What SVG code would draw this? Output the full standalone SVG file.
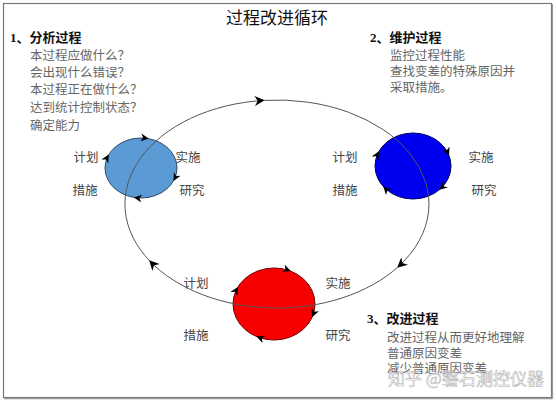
<svg xmlns="http://www.w3.org/2000/svg" width="556" height="402" viewBox="0 0 556 402">
<defs>
<style>
.t{font-family:"Liberation Serif","Noto Sans CJK SC",serif;}
.title{font-size:17px;fill:#111;}
.h{font-size:13px;font-weight:bold;fill:#111;}
.b{font-size:12.5px;fill:#666;}
.lb{font-size:12.5px;fill:#444;}
.big{fill:none;stroke:#555;stroke-width:1;}
.sa{fill:none;stroke:#000;stroke-width:1;}
.wm{font-family:"Noto Sans CJK SC",sans-serif;font-size:17px;fill:#fff;fill-opacity:0.7;stroke:#aaa;stroke-width:0.5;}
</style>
<marker id="ah" markerUnits="userSpaceOnUse" markerWidth="10" markerHeight="10" viewBox="0 0 10 10" refX="9" refY="5" orient="auto">
<path d="M0,0 L10,5 L0,10 L3,5 z" fill="#000"/>
</marker>
<marker id="sh" markerUnits="userSpaceOnUse" markerWidth="8" markerHeight="8" viewBox="0 0 10 10" refX="9" refY="5" orient="auto">
<path d="M0,0 L10,5 L0,10 L3,5 z" fill="#000"/>
</marker>
</defs>
<rect x="0" y="0" width="556" height="402" fill="#fff"/>
<rect x="3.5" y="3.5" width="548" height="394" fill="#fff" stroke="#777" stroke-width="1.2"/>
<line x1="4" y1="398.5" x2="552" y2="398.5" stroke="#999" stroke-width="1.5"/>
<line x1="552.5" y1="4" x2="552.5" y2="399" stroke="#999" stroke-width="1.2"/>
<text class="t title" x="277" y="24" text-anchor="middle">过程改进循环</text>

<g id="sec1">
<text class="t h" x="10" y="42">1、分析过程</text>
<text class="t b" x="30" y="60">本过程应做什么？</text>
<text class="t b" x="30" y="77">会出现什么错误？</text>
<text class="t b" x="30" y="94">本过程正在做什么？</text>
<text class="t b" x="30" y="112">达到统计控制状态？</text>
<text class="t b" x="30" y="130">确定能力</text>
</g>
<g id="sec2">
<text class="t h" x="370" y="42">2、维护过程</text>
<text class="t b" x="390" y="60">监控过程性能</text>
<text class="t b" x="390" y="76">查找变差的特殊原因并</text>
<text class="t b" x="390" y="92">采取措施。</text>
</g>
<g id="sec3">
<text class="t h" x="367" y="323">3、改进过程</text>
<text class="t b" x="387" y="342">改进过程从而更好地理解</text>
<text class="t b" x="387" y="358">普通原因变差</text>
<text class="t b" x="387" y="373">减少普通原因变差</text>
</g>

<g id="cycle-analyze">
<ellipse cx="141" cy="168" rx="36" ry="30" fill="#5B9BD5" stroke="#2E4A68" stroke-width="1"/>
<path class="sa" d="M143.9,137.9 L147.9,138.5" marker-end="url(#sh)"/>
<path class="sa" d="M175.8,176.7 L173.9,180.2" marker-end="url(#sh)"/>
<path class="sa" d="M138.7,198.1 L134.7,197.5" marker-end="url(#sh)"/>
<path class="sa" d="M106.4,158.8 L108.4,155.3" marker-end="url(#sh)"/>
<text class="t lb" x="86" y="162" text-anchor="middle">计划</text>
<text class="t lb" x="188" y="162" text-anchor="middle">实施</text>
<text class="t lb" x="85" y="195" text-anchor="middle">措施</text>
<text class="t lb" x="192" y="195" text-anchor="middle">研究</text>
</g>

<g id="cycle-maintain">
<ellipse cx="413" cy="166" rx="38" ry="33" fill="#0000F0" stroke="#000060" stroke-width="1"/>
<path class="sa" d="M447.1,151.0 L448.7,154.7" marker-end="url(#sh)"/>
<path class="sa" d="M442.9,186.7 L439.9,189.3" marker-end="url(#sh)"/>
<path class="sa" d="M386.7,190.1 L383.9,187.2" marker-end="url(#sh)"/>
<path class="sa" d="M376.7,155.5 L378.6,152.0" marker-end="url(#sh)"/>
<text class="t lb" x="345" y="162" text-anchor="middle">计划</text>
<text class="t lb" x="481" y="162" text-anchor="middle">实施</text>
<text class="t lb" x="345" y="195" text-anchor="middle">措施</text>
<text class="t lb" x="484" y="195" text-anchor="middle">研究</text>
</g>

<g id="cycle-improve">
<ellipse cx="274" cy="304" rx="41" ry="36" fill="#F80000" stroke="#700000" stroke-width="1"/>
<path class="sa" d="M286.2,269.4 L290.0,270.8" marker-end="url(#sh)"/>
<path class="sa" d="M314.0,312.6 L312.5,316.3" marker-end="url(#sh)"/>
<path class="sa" d="M261.0,338.3 L257.3,336.9" marker-end="url(#sh)"/>
<path class="sa" d="M235.5,291.2 L237.5,287.7" marker-end="url(#sh)"/>
<text class="t lb" x="196" y="288" text-anchor="middle">计划</text>
<text class="t lb" x="338" y="288" text-anchor="middle">实施</text>
<text class="t lb" x="196" y="340" text-anchor="middle">措施</text>
<text class="t lb" x="338" y="340" text-anchor="middle">研究</text>
</g>

<g id="connectors">
<path class="big" d="M149.8,261 A152,104 0 0 1 263.7,100.4" marker-end="url(#ah)"/>
<path class="big" d="M263.7,100.4 A152,104 0 0 1 397.9,267" marker-end="url(#ah)"/>
<path class="big" d="M397.9,267 A152,104 0 0 1 149.8,261" marker-end="url(#ah)"/>
</g>

<text class="wm" x="388" y="385">知乎 @磐石测控仪器</text>
</svg>
